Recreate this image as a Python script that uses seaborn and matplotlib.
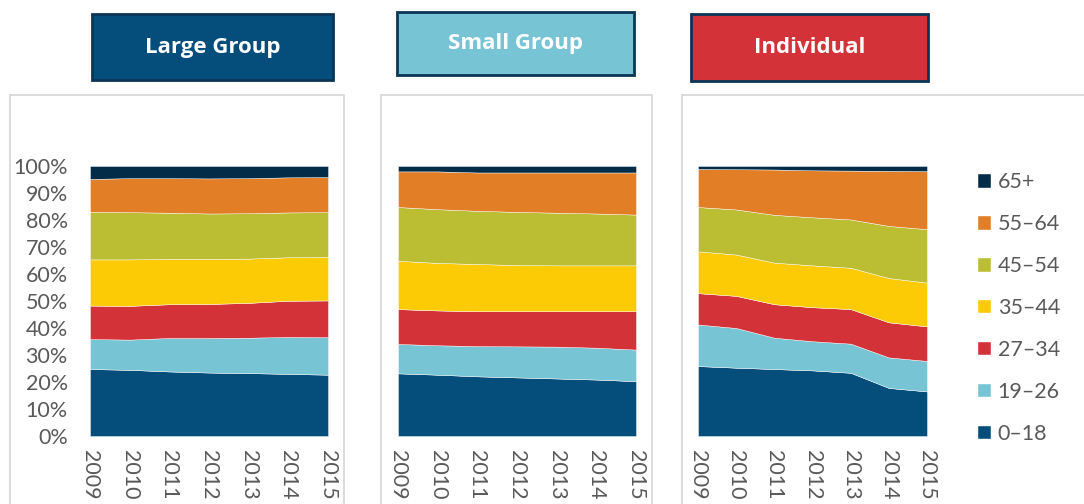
import matplotlib
matplotlib.use("Agg")
import matplotlib.pyplot as plt
import matplotlib.patches as mpatches
import seaborn as sns

sns.set_theme(style="white")
plt.rcParams['font.family'] = ['Lato', 'DejaVu Sans']

years = [2009, 2010, 2011, 2012, 2013, 2014, 2015]
age_groups = ["0–18", "19–26", "27–34", "35–44", "45–54", "55–64", "65+"]
colors = ["#054D7B", "#77C4D5", "#D43239", "#FDCB05", "#BBBE33", "#E17E26", "#032C48"]

# share of enrollees (%) per age band, bottom to top
large_0_18 = [24.8, 24.5, 23.9, 23.5, 23.3, 23.0, 22.7]
large_19_26 = [11.1, 11.2, 12.4, 12.8, 13.1, 13.7, 13.9]
large_27_34 = [12.4, 12.5, 12.5, 12.6, 12.9, 13.4, 13.6]
large_35_44 = [17.1, 17.2, 16.8, 16.7, 16.4, 16.1, 16.1]
large_45_54 = [17.6, 17.5, 17.1, 16.8, 16.8, 16.6, 16.6]
large_55_64 = [12.2, 12.6, 12.8, 13.0, 13.0, 13.0, 13.0]
large_65 = [4.8, 4.5, 4.5, 4.6, 4.5, 4.2, 4.1]

small_0_18 = [23.2, 22.7, 22.1, 21.7, 21.3, 20.9, 20.3]
small_19_26 = [10.9, 10.9, 11.2, 11.5, 11.8, 11.8, 11.7]
small_27_34 = [12.9, 12.9, 12.9, 13.0, 13.1, 13.5, 14.2]
small_35_44 = [17.9, 17.6, 17.5, 17.1, 17.0, 17.0, 17.0]
small_45_54 = [19.9, 19.9, 19.7, 19.7, 19.5, 19.2, 18.8]
small_55_64 = [13.2, 14.0, 14.2, 14.6, 14.9, 15.2, 15.6]
small_65 = [2.0, 2.0, 2.4, 2.4, 2.4, 2.4, 2.4]

indiv_0_18 = [25.9, 25.3, 24.8, 24.3, 23.4, 17.8, 16.5]
indiv_19_26 = [15.4, 14.7, 11.6, 10.8, 10.8, 11.3, 11.3]
indiv_27_34 = [11.6, 11.9, 12.4, 12.6, 12.8, 13.0, 12.8]
indiv_35_44 = [15.5, 15.3, 15.4, 15.5, 15.3, 16.4, 16.2]
indiv_45_54 = [16.4, 16.7, 17.7, 17.8, 17.9, 19.3, 19.8]
indiv_55_64 = [14.1, 14.9, 16.8, 17.4, 18.1, 20.4, 21.5]
indiv_65 = [1.1, 1.2, 1.3, 1.6, 1.7, 1.8, 1.9]

groups = ["Large Group", "Small Group", "Individual"]
group_colors = ["#054D7B", "#77C4D5", "#D43239"]
series = [
    [large_0_18, large_19_26, large_27_34, large_35_44, large_45_54, large_55_64, large_65],
    [small_0_18, small_19_26, small_27_34, small_35_44, small_45_54, small_55_64, small_65],
    [indiv_0_18, indiv_19_26, indiv_27_34, indiv_35_44, indiv_45_54, indiv_55_64, indiv_65],
]

W, H = 1084, 504
fig = plt.figure(figsize=(W / 100, H / 100), dpi=100)
fig.patch.set_facecolor("white")


def fx(px):
    return px / W


def fy(py):
    return 1 - py / H


# pixel layout: axes x-extent, outer panel frame, title box
axes_x = [(90, 328), (398, 636), (698, 927)]
frames = [(10, 344), (381, 652), (682, 1100)]
boxes = [(92, 14, 333, 80), (397, 12, 634, 75), (691, 14, 928, 81)]
grey = "#595959"
fs = 15.5

for i in range(3):
    fl, fr = frames[i]
    fig.patches.append(mpatches.Rectangle((fx(fl), fy(520)), fx(fr - fl), 520 / H - 95 / H,
                                          transform=fig.transFigure, fill=False,
                                          edgecolor="#D9D9D9", lw=1.3, zorder=0))
    bl, bt, br, bb = boxes[i]
    fig.patches.append(mpatches.Rectangle((fx(bl), fy(bb)), fx(br - bl), (bb - bt) / H,
                                          transform=fig.transFigure, facecolor=group_colors[i],
                                          edgecolor="#0B3556", lw=2, zorder=1))
    fig.text(fx((bl + br) / 2), fy((bt + bb) / 2), groups[i], color="white",
             fontsize=16, fontweight="bold", family=["Open Sans", "DejaVu Sans"],
             ha="center", va="center")

    x0, x1 = axes_x[i]
    ax = fig.add_axes([fx(x0), fy(436), fx(x1 - x0), (436 - 166) / H])
    polys = ax.stackplot(years, *series[i], colors=colors, labels=age_groups,
                         edgecolor="white", linewidth=0.3)
    ax.set_xlim(2009, 2015)
    ax.set_ylim(0, 100)
    ax.set_xticks(years)
    ax.set_xticklabels([str(y) for y in years], rotation=-90, fontsize=fs, color=grey)
    ax.tick_params(axis="x", pad=10, length=0)
    ax.set_yticks(range(0, 101, 10))
    if i == 0:
        ax.set_yticklabels([f"{v}%" for v in range(0, 101, 10)], fontsize=fs, color=grey)
        ax.tick_params(axis="y", length=0, pad=16)
    else:
        ax.set_yticklabels([])
        ax.tick_params(axis="y", length=0)
    for s in ax.spines.values():
        s.set_visible(False)
    ax.set_facecolor("white")

handles = polys[::-1]
labels = age_groups[::-1]
fig.legend(handles, labels, loc="upper left", bbox_to_anchor=(fx(959), fy(153)),
           frameon=False, fontsize=fs, labelcolor=grey, handlelength=0.6,
           handleheight=0.6, handletextpad=0.3, labelspacing=1.02)

fig.savefig("out.png", dpi=100)
